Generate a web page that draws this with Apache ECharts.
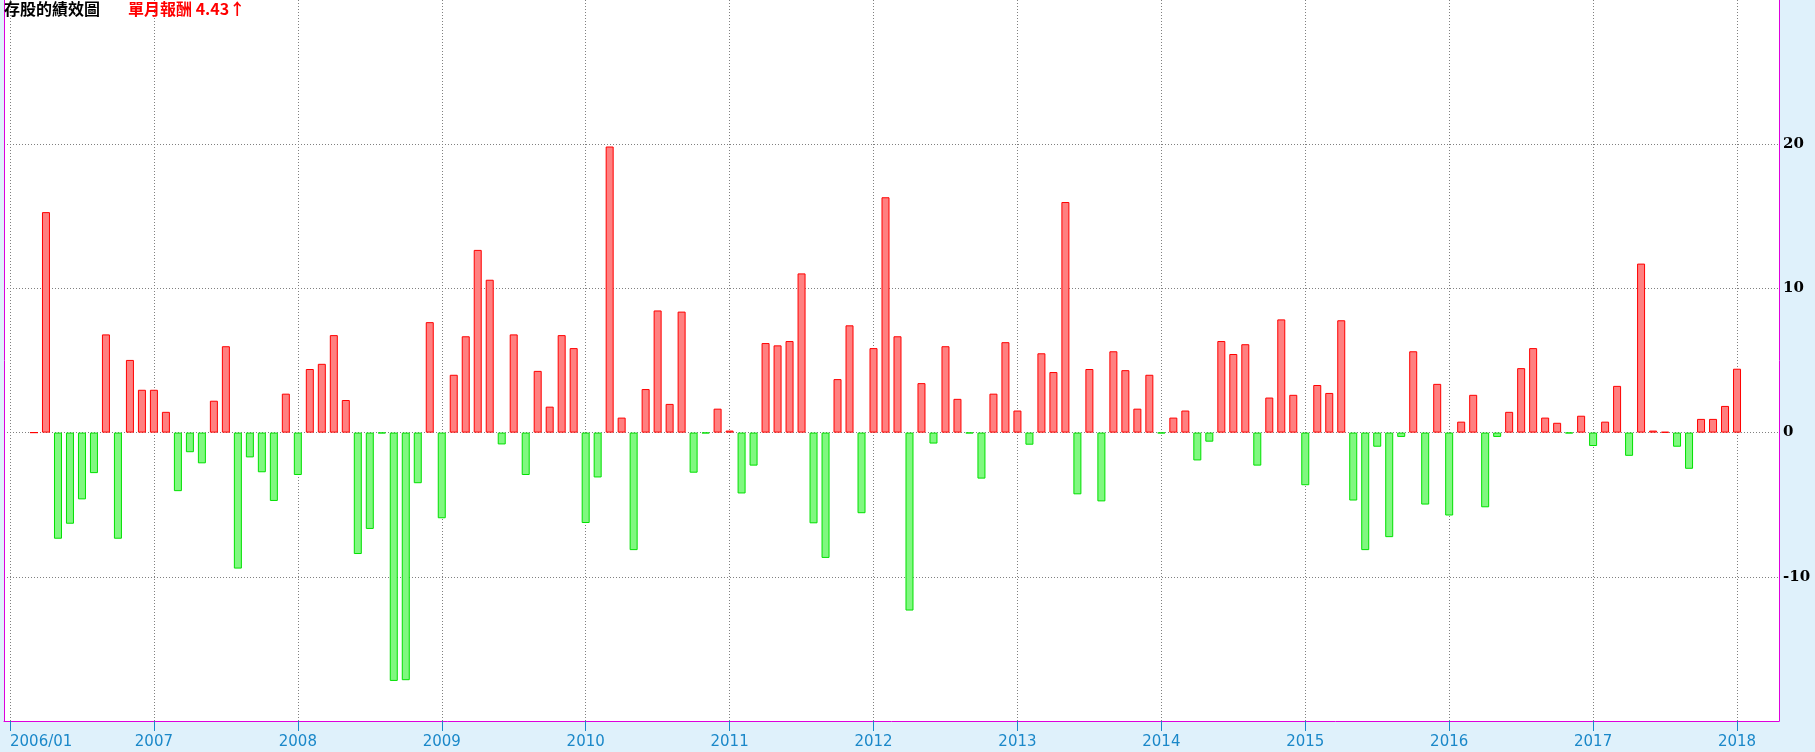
<!DOCTYPE html>
<html>
<head>
<meta charset="utf-8">
<script src="https://cdn.jsdelivr.net/npm/echarts@6/dist/echarts.min.js"></script>
<style>
html,body{margin:0;padding:0;background:#dff1fb;}
#c{width:1815px;height:752px;}
</style>
</head>
<body>
<div id="c"></div>
<script>
// Monthly returns (%), 2006/01 .. 2018/01
const ret2006 = [null, null, 0, 15.29, -7.36, -6.32, -4.63, -2.81, 6.81, -7.36, 5.04, 2.97];
const ret2007 = [2.97, 1.44, -4.06, -1.36, -2.13, 2.21, 5.99, -9.43, -1.72, -2.75, -4.74, 2.70];
const ret2008 = [-2.94, 4.41, 4.77, 6.76, 2.26, -8.42, -6.68, -0.05, -17.22, -17.17, -3.51, 7.66];
const ret2009 = [-5.94, 4.01, 6.68, 12.67, 10.60, -0.82, 6.81, -2.94, 4.28, 1.80, 6.76, 5.86];
const ret2010 = [-6.27, -3.11, 19.84, 1.04, -8.15, 3.02, 8.47, 1.99, 8.39, -2.78, -0.05, 1.66];
const ret2011 = [0.14, -4.22, -2.29, 6.21, 6.05, 6.35, 11.04, -6.29, -8.69, 3.71, 7.44, -5.59];
const ret2012 = [5.86, 16.32, 6.68, -12.34, 3.43, -0.76, 5.99, 2.34, -0.05, -3.19, 2.70, 6.27];
const ret2013 = [1.53, -0.84, 5.50, 4.20, 15.99, -4.28, 4.41, -4.77, 5.64, 4.33, 1.66, 4.01];
const ret2014 = [-0.05, 1.04, 1.53, -1.93, -0.63, 6.35, 5.45, 6.13, -2.29, 2.43, 7.85, 2.62];
const ret2015 = [-3.65, 3.30, 2.75, 7.79, -4.71, -8.15, -0.98, -7.25, -0.30, 5.64, -4.99, 3.38];
const ret2016 = [-5.75, 0.76, 2.62, -5.18, -0.30, 1.44, 4.47, 5.86, 1.04, 0.68, -0.05, 1.17];
const ret2017 = [-0.93, 0.76, 3.24, -1.61, 11.72, 0.14, 0.05, -0.98, -2.51, 0.95, 0.95, 1.85];
const ret2018 = [4.43];

const startYear = 2006;
const padMonths = ['2018/02', '2018/03', '2018/04']; // empty room at the right end
const yTicks = [-20, -10, 0, 10, 20, 30];
const yShown = [-10, 0, 10, 20];

const titleText = '存股的績效圖';
const subLabel = '單月報酬';

const values = [].concat(ret2006, ret2007, ret2008, ret2009, ret2010, ret2011,
  ret2012, ret2013, ret2014, ret2015, ret2016, ret2017, ret2018);

const months = [];
for (let i = 0; i < values.length; i++) {
  const y = startYear + Math.floor(i / 12);
  const m = (i % 12) + 1;
  months.push(y + '/' + (m < 10 ? '0' + m : m));
}
const categories = months.concat(padMonths);

const last = values[values.length - 1];

const up = { color: '#ff8080', borderColor: '#ff0000', borderWidth: 1 };
const down = { color: '#80f880', borderColor: '#00e000', borderWidth: 1 };

const barData = values.map(v => v === null ? null : { value: v, itemStyle: v >= 0 ? up : down });

const yearTick = (idx) => idx % 12 === 0 && idx < values.length;
const magenta = '#dd00dd';

const chart = echarts.init(document.getElementById('c'), null, { renderer: 'canvas' });
chart.setOption({
  backgroundColor: '#dff1fb',
  animation: false,
  title: [{
    text: titleText,
    left: 4, top: 1, padding: 0,
    textStyle: { fontFamily: 'Noto Sans CJK TC', fontWeight: 'bold', fontSize: 16, color: '#000000' }
  }, {
    text: subLabel + ' ' + last.toFixed(2) + (last >= 0 ? '↑' : '↓'),
    left: 128, top: 1, padding: 0,
    textStyle: { fontFamily: 'Noto Sans CJK TC', fontWeight: 'bold', fontSize: 16, color: '#ff0000' }
  }],
  grid: {
    left: 4, right: 36, top: -4, bottom: 31,
    show: true, backgroundColor: '#ffffff', borderWidth: 0
  },
  xAxis: {
    type: 'category',
    data: categories,
    boundaryGap: true,
    axisLine: { show: true, onZero: false, lineStyle: { color: magenta, width: 1 } },
    axisTick: { show: true, alignWithLabel: true, interval: yearTick, length: 10, lineStyle: { color: '#1a88c9' } },
    axisLabel: {
      interval: yearTick,
      formatter: (v, i) => i === 0 ? v : v.slice(0, 4),
      color: '#1a88c9', fontFamily: 'DejaVu Sans', fontSize: 15, margin: 14,
      alignMinLabel: 'left'
    },
    splitLine: {
      show: true, interval: yearTick, alignWithLabel: true,
      lineStyle: { color: '#808080', type: [1, 2], width: 1 }
    }
  },
  yAxis: [{
    type: 'value',
    position: 'right',
    min: yTicks[0], max: yTicks[yTicks.length - 1], interval: 10,
    axisLine: { show: true, lineStyle: { color: magenta, width: 1 } },
    axisTick: { show: false },
    axisLabel: {
      color: '#000000', fontFamily: 'DejaVu Serif', fontWeight: 'bold', fontSize: 15, margin: 4,
      formatter: v => (yShown.indexOf(v) >= 0 ? String(v) : '')
    },
    splitLine: { show: true, showMaxLine: false, lineStyle: { color: '#808080', type: [1, 2], width: 1 } }
  }, {
    type: 'value',
    position: 'left',
    min: yTicks[0], max: yTicks[yTicks.length - 1],
    axisLine: { show: true, lineStyle: { color: magenta, width: 1 } },
    axisTick: { show: false }, axisLabel: { show: false }, splitLine: { show: false }
  }],
  series: [{
    type: 'bar',
    data: barData,
    barWidth: 8,
    yAxisIndex: 0
  }]
});
</script>
</body>
</html>
